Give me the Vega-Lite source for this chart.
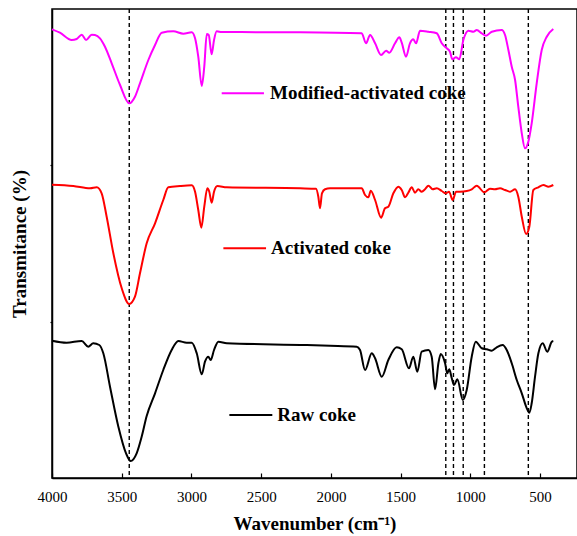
{
  "$schema": "https://vega.github.io/schema/vega-lite/v6.json",
  "width": 525,
  "height": 469,
  "autosize": {"type": "none"},
  "padding": {"left": 52, "top": 9, "right": 0, "bottom": 58},
  "background": "white",
  "datasets": {
    "spectra": [
      {"wn": 4000, "T": 448.7, "sample": "Modified-activated coke"},
      {"wn": 3943, "T": 445.3, "sample": "Modified-activated coke"},
      {"wn": 3859, "T": 438, "sample": "Modified-activated coke"},
      {"wn": 3823, "T": 439, "sample": "Modified-activated coke"},
      {"wn": 3787, "T": 443.3, "sample": "Modified-activated coke"},
      {"wn": 3756, "T": 438, "sample": "Modified-activated coke"},
      {"wn": 3715, "T": 443.3, "sample": "Modified-activated coke"},
      {"wn": 3692, "T": 443, "sample": "Modified-activated coke"},
      {"wn": 3656, "T": 439.7, "sample": "Modified-activated coke"},
      {"wn": 3620, "T": 431.3, "sample": "Modified-activated coke"},
      {"wn": 3572, "T": 414.7, "sample": "Modified-activated coke"},
      {"wn": 3512, "T": 393, "sample": "Modified-activated coke"},
      {"wn": 3446, "T": 374.7, "sample": "Modified-activated coke"},
      {"wn": 3405, "T": 381.3, "sample": "Modified-activated coke"},
      {"wn": 3369, "T": 394.7, "sample": "Modified-activated coke"},
      {"wn": 3309, "T": 418, "sample": "Modified-activated coke"},
      {"wn": 3261, "T": 433, "sample": "Modified-activated coke"},
      {"wn": 3213, "T": 445.3, "sample": "Modified-activated coke"},
      {"wn": 3130, "T": 446.7, "sample": "Modified-activated coke"},
      {"wn": 3058, "T": 444.3, "sample": "Modified-activated coke"},
      {"wn": 2998, "T": 445.7, "sample": "Modified-activated coke"},
      {"wn": 2974, "T": 439.7, "sample": "Modified-activated coke"},
      {"wn": 2951, "T": 421.3, "sample": "Modified-activated coke"},
      {"wn": 2926, "T": 392, "sample": "Modified-activated coke"},
      {"wn": 2908, "T": 411.3, "sample": "Modified-activated coke"},
      {"wn": 2890, "T": 444, "sample": "Modified-activated coke"},
      {"wn": 2876, "T": 443, "sample": "Modified-activated coke"},
      {"wn": 2855, "T": 423.7, "sample": "Modified-activated coke"},
      {"wn": 2838, "T": 438, "sample": "Modified-activated coke"},
      {"wn": 2819, "T": 446.7, "sample": "Modified-activated coke"},
      {"wn": 2783, "T": 446, "sample": "Modified-activated coke"},
      {"wn": 2221, "T": 445.7, "sample": "Modified-activated coke"},
      {"wn": 1779, "T": 444.7, "sample": "Modified-activated coke"},
      {"wn": 1748, "T": 434.7, "sample": "Modified-activated coke"},
      {"wn": 1719, "T": 443, "sample": "Modified-activated coke"},
      {"wn": 1683, "T": 434.7, "sample": "Modified-activated coke"},
      {"wn": 1640, "T": 423, "sample": "Modified-activated coke"},
      {"wn": 1604, "T": 427.3, "sample": "Modified-activated coke"},
      {"wn": 1581, "T": 425.3, "sample": "Modified-activated coke"},
      {"wn": 1540, "T": 434.7, "sample": "Modified-activated coke"},
      {"wn": 1509, "T": 440.7, "sample": "Modified-activated coke"},
      {"wn": 1492, "T": 435.3, "sample": "Modified-activated coke"},
      {"wn": 1461, "T": 421.3, "sample": "Modified-activated coke"},
      {"wn": 1433, "T": 434.7, "sample": "Modified-activated coke"},
      {"wn": 1409, "T": 438.7, "sample": "Modified-activated coke"},
      {"wn": 1389, "T": 434.7, "sample": "Modified-activated coke"},
      {"wn": 1361, "T": 447.3, "sample": "Modified-activated coke"},
      {"wn": 1301, "T": 446.3, "sample": "Modified-activated coke"},
      {"wn": 1241, "T": 444.7, "sample": "Modified-activated coke"},
      {"wn": 1205, "T": 434.7, "sample": "Modified-activated coke"},
      {"wn": 1169, "T": 429.7, "sample": "Modified-activated coke"},
      {"wn": 1146, "T": 426.3, "sample": "Modified-activated coke"},
      {"wn": 1129, "T": 418.7, "sample": "Modified-activated coke"},
      {"wn": 1103, "T": 420.7, "sample": "Modified-activated coke"},
      {"wn": 1079, "T": 418.7, "sample": "Modified-activated coke"},
      {"wn": 1050, "T": 438, "sample": "Modified-activated coke"},
      {"wn": 1014, "T": 447.3, "sample": "Modified-activated coke"},
      {"wn": 978, "T": 446.3, "sample": "Modified-activated coke"},
      {"wn": 954, "T": 448, "sample": "Modified-activated coke"},
      {"wn": 918, "T": 444.7, "sample": "Modified-activated coke"},
      {"wn": 887, "T": 442.3, "sample": "Modified-activated coke"},
      {"wn": 846, "T": 446.3, "sample": "Modified-activated coke"},
      {"wn": 775, "T": 448, "sample": "Modified-activated coke"},
      {"wn": 751, "T": 443, "sample": "Modified-activated coke"},
      {"wn": 727, "T": 428, "sample": "Modified-activated coke"},
      {"wn": 703, "T": 411.3, "sample": "Modified-activated coke"},
      {"wn": 679, "T": 398, "sample": "Modified-activated coke"},
      {"wn": 656, "T": 371.3, "sample": "Modified-activated coke"},
      {"wn": 631, "T": 344.7, "sample": "Modified-activated coke"},
      {"wn": 608, "T": 329.7, "sample": "Modified-activated coke"},
      {"wn": 584, "T": 336.3, "sample": "Modified-activated coke"},
      {"wn": 560, "T": 354.7, "sample": "Modified-activated coke"},
      {"wn": 524, "T": 394.7, "sample": "Modified-activated coke"},
      {"wn": 488, "T": 428, "sample": "Modified-activated coke"},
      {"wn": 452, "T": 441.3, "sample": "Modified-activated coke"},
      {"wn": 405, "T": 449, "sample": "Modified-activated coke"},

      {"wn": 4000, "T": 293.3, "sample": "Activated coke"},
      {"wn": 3847, "T": 292, "sample": "Activated coke"},
      {"wn": 3727, "T": 289.7, "sample": "Activated coke"},
      {"wn": 3679, "T": 290.7, "sample": "Activated coke"},
      {"wn": 3644, "T": 284.7, "sample": "Activated coke"},
      {"wn": 3608, "T": 261.3, "sample": "Activated coke"},
      {"wn": 3560, "T": 224.7, "sample": "Activated coke"},
      {"wn": 3500, "T": 189.7, "sample": "Activated coke"},
      {"wn": 3446, "T": 174, "sample": "Activated coke"},
      {"wn": 3405, "T": 181.3, "sample": "Activated coke"},
      {"wn": 3369, "T": 204.7, "sample": "Activated coke"},
      {"wn": 3321, "T": 234.7, "sample": "Activated coke"},
      {"wn": 3261, "T": 254.7, "sample": "Activated coke"},
      {"wn": 3202, "T": 278, "sample": "Activated coke"},
      {"wn": 3166, "T": 290.7, "sample": "Activated coke"},
      {"wn": 3082, "T": 292, "sample": "Activated coke"},
      {"wn": 2998, "T": 292.7, "sample": "Activated coke"},
      {"wn": 2974, "T": 286.3, "sample": "Activated coke"},
      {"wn": 2951, "T": 268, "sample": "Activated coke"},
      {"wn": 2929, "T": 250.3, "sample": "Activated coke"},
      {"wn": 2908, "T": 271.3, "sample": "Activated coke"},
      {"wn": 2886, "T": 289.7, "sample": "Activated coke"},
      {"wn": 2872, "T": 286.3, "sample": "Activated coke"},
      {"wn": 2855, "T": 275.3, "sample": "Activated coke"},
      {"wn": 2838, "T": 286.3, "sample": "Activated coke"},
      {"wn": 2814, "T": 292, "sample": "Activated coke"},
      {"wn": 2747, "T": 290.7, "sample": "Activated coke"},
      {"wn": 2221, "T": 289.7, "sample": "Activated coke"},
      {"wn": 2107, "T": 289.3, "sample": "Activated coke"},
      {"wn": 2090, "T": 281.3, "sample": "Activated coke"},
      {"wn": 2078, "T": 269.7, "sample": "Activated coke"},
      {"wn": 2064, "T": 284.7, "sample": "Activated coke"},
      {"wn": 2042, "T": 288.7, "sample": "Activated coke"},
      {"wn": 2006, "T": 289.7, "sample": "Activated coke"},
      {"wn": 1779, "T": 289.7, "sample": "Activated coke"},
      {"wn": 1755, "T": 283, "sample": "Activated coke"},
      {"wn": 1731, "T": 280.7, "sample": "Activated coke"},
      {"wn": 1714, "T": 287.3, "sample": "Activated coke"},
      {"wn": 1683, "T": 278, "sample": "Activated coke"},
      {"wn": 1640, "T": 260.3, "sample": "Activated coke"},
      {"wn": 1612, "T": 269.7, "sample": "Activated coke"},
      {"wn": 1588, "T": 271.3, "sample": "Activated coke"},
      {"wn": 1552, "T": 284.7, "sample": "Activated coke"},
      {"wn": 1516, "T": 291.3, "sample": "Activated coke"},
      {"wn": 1492, "T": 288, "sample": "Activated coke"},
      {"wn": 1468, "T": 280.7, "sample": "Activated coke"},
      {"wn": 1445, "T": 285.3, "sample": "Activated coke"},
      {"wn": 1420, "T": 290.7, "sample": "Activated coke"},
      {"wn": 1397, "T": 285.3, "sample": "Activated coke"},
      {"wn": 1373, "T": 288.7, "sample": "Activated coke"},
      {"wn": 1349, "T": 286.3, "sample": "Activated coke"},
      {"wn": 1325, "T": 288.7, "sample": "Activated coke"},
      {"wn": 1301, "T": 292.3, "sample": "Activated coke"},
      {"wn": 1270, "T": 288.7, "sample": "Activated coke"},
      {"wn": 1241, "T": 289.7, "sample": "Activated coke"},
      {"wn": 1205, "T": 287, "sample": "Activated coke"},
      {"wn": 1176, "T": 284.7, "sample": "Activated coke"},
      {"wn": 1153, "T": 286.3, "sample": "Activated coke"},
      {"wn": 1126, "T": 278, "sample": "Activated coke"},
      {"wn": 1102, "T": 286.3, "sample": "Activated coke"},
      {"wn": 1074, "T": 286.3, "sample": "Activated coke"},
      {"wn": 1026, "T": 287, "sample": "Activated coke"},
      {"wn": 990, "T": 288.7, "sample": "Activated coke"},
      {"wn": 954, "T": 292.3, "sample": "Activated coke"},
      {"wn": 900, "T": 285.7, "sample": "Activated coke"},
      {"wn": 859, "T": 289.3, "sample": "Activated coke"},
      {"wn": 823, "T": 288.7, "sample": "Activated coke"},
      {"wn": 787, "T": 289.7, "sample": "Activated coke"},
      {"wn": 751, "T": 288, "sample": "Activated coke"},
      {"wn": 715, "T": 286.3, "sample": "Activated coke"},
      {"wn": 679, "T": 288.7, "sample": "Activated coke"},
      {"wn": 656, "T": 281.3, "sample": "Activated coke"},
      {"wn": 631, "T": 261.3, "sample": "Activated coke"},
      {"wn": 600, "T": 244, "sample": "Activated coke"},
      {"wn": 577, "T": 251.3, "sample": "Activated coke"},
      {"wn": 548, "T": 288, "sample": "Activated coke"},
      {"wn": 512, "T": 290.7, "sample": "Activated coke"},
      {"wn": 476, "T": 293, "sample": "Activated coke"},
      {"wn": 440, "T": 291.3, "sample": "Activated coke"},
      {"wn": 405, "T": 293, "sample": "Activated coke"},

      {"wn": 4000, "T": 137.3, "sample": "Raw coke"},
      {"wn": 3895, "T": 135.3, "sample": "Raw coke"},
      {"wn": 3787, "T": 137, "sample": "Raw coke"},
      {"wn": 3740, "T": 131.3, "sample": "Raw coke"},
      {"wn": 3704, "T": 134.7, "sample": "Raw coke"},
      {"wn": 3661, "T": 133, "sample": "Raw coke"},
      {"wn": 3632, "T": 124.7, "sample": "Raw coke"},
      {"wn": 3584, "T": 91.3, "sample": "Raw coke"},
      {"wn": 3524, "T": 51.3, "sample": "Raw coke"},
      {"wn": 3469, "T": 24.7, "sample": "Raw coke"},
      {"wn": 3436, "T": 17, "sample": "Raw coke"},
      {"wn": 3393, "T": 24.7, "sample": "Raw coke"},
      {"wn": 3357, "T": 41.3, "sample": "Raw coke"},
      {"wn": 3321, "T": 62, "sample": "Raw coke"},
      {"wn": 3261, "T": 84.7, "sample": "Raw coke"},
      {"wn": 3202, "T": 108, "sample": "Raw coke"},
      {"wn": 3142, "T": 128, "sample": "Raw coke"},
      {"wn": 3094, "T": 137, "sample": "Raw coke"},
      {"wn": 3034, "T": 135.3, "sample": "Raw coke"},
      {"wn": 2998, "T": 135.3, "sample": "Raw coke"},
      {"wn": 2962, "T": 124.7, "sample": "Raw coke"},
      {"wn": 2926, "T": 103.7, "sample": "Raw coke"},
      {"wn": 2903, "T": 116.3, "sample": "Raw coke"},
      {"wn": 2879, "T": 121.3, "sample": "Raw coke"},
      {"wn": 2862, "T": 118, "sample": "Raw coke"},
      {"wn": 2838, "T": 128, "sample": "Raw coke"},
      {"wn": 2807, "T": 136.3, "sample": "Raw coke"},
      {"wn": 2747, "T": 134.7, "sample": "Raw coke"},
      {"wn": 2173, "T": 133, "sample": "Raw coke"},
      {"wn": 2006, "T": 132.3, "sample": "Raw coke"},
      {"wn": 1815, "T": 131.3, "sample": "Raw coke"},
      {"wn": 1791, "T": 128, "sample": "Raw coke"},
      {"wn": 1755, "T": 108, "sample": "Raw coke"},
      {"wn": 1707, "T": 124.7, "sample": "Raw coke"},
      {"wn": 1683, "T": 119.7, "sample": "Raw coke"},
      {"wn": 1635, "T": 101.3, "sample": "Raw coke"},
      {"wn": 1588, "T": 118, "sample": "Raw coke"},
      {"wn": 1528, "T": 130.7, "sample": "Raw coke"},
      {"wn": 1492, "T": 128.7, "sample": "Raw coke"},
      {"wn": 1440, "T": 109.7, "sample": "Raw coke"},
      {"wn": 1409, "T": 121.3, "sample": "Raw coke"},
      {"wn": 1380, "T": 106.3, "sample": "Raw coke"},
      {"wn": 1349, "T": 126.3, "sample": "Raw coke"},
      {"wn": 1301, "T": 128, "sample": "Raw coke"},
      {"wn": 1277, "T": 121.3, "sample": "Raw coke"},
      {"wn": 1253, "T": 88.7, "sample": "Raw coke"},
      {"wn": 1229, "T": 114.7, "sample": "Raw coke"},
      {"wn": 1212, "T": 124, "sample": "Raw coke"},
      {"wn": 1181, "T": 114.7, "sample": "Raw coke"},
      {"wn": 1165, "T": 104.7, "sample": "Raw coke"},
      {"wn": 1151, "T": 108.7, "sample": "Raw coke"},
      {"wn": 1133, "T": 99.7, "sample": "Raw coke"},
      {"wn": 1117, "T": 93, "sample": "Raw coke"},
      {"wn": 1093, "T": 98.7, "sample": "Raw coke"},
      {"wn": 1054, "T": 78, "sample": "Raw coke"},
      {"wn": 1026, "T": 88, "sample": "Raw coke"},
      {"wn": 990, "T": 121.3, "sample": "Raw coke"},
      {"wn": 961, "T": 136.3, "sample": "Raw coke"},
      {"wn": 918, "T": 129.7, "sample": "Raw coke"},
      {"wn": 882, "T": 128.7, "sample": "Raw coke"},
      {"wn": 846, "T": 127.3, "sample": "Raw coke"},
      {"wn": 811, "T": 130.7, "sample": "Raw coke"},
      {"wn": 768, "T": 133, "sample": "Raw coke"},
      {"wn": 739, "T": 128, "sample": "Raw coke"},
      {"wn": 703, "T": 114.7, "sample": "Raw coke"},
      {"wn": 667, "T": 98, "sample": "Raw coke"},
      {"wn": 631, "T": 84.7, "sample": "Raw coke"},
      {"wn": 595, "T": 69.7, "sample": "Raw coke"},
      {"wn": 577, "T": 65.3, "sample": "Raw coke"},
      {"wn": 560, "T": 74.7, "sample": "Raw coke"},
      {"wn": 536, "T": 101.3, "sample": "Raw coke"},
      {"wn": 512, "T": 124.7, "sample": "Raw coke"},
      {"wn": 481, "T": 134.7, "sample": "Raw coke"},
      {"wn": 448, "T": 126.3, "sample": "Raw coke"},
      {"wn": 416, "T": 136.3, "sample": "Raw coke"},
      {"wn": 405, "T": 137, "sample": "Raw coke"}
    ],
    "bands": [
      {"wn": 3446},
      {"wn": 1176},
      {"wn": 1121},
      {"wn": 1051},
      {"wn": 899},
      {"wn": 584}
    ],
    "keys": [
      {"sample": "Modified-activated coke", "from": 2783, "to": 2480, "at": 2437, "T": 384.7},
      {"sample": "Activated coke", "from": 2771, "to": 2465, "at": 2429, "T": 229.7},
      {"sample": "Raw coke", "from": 2728, "to": 2420, "at": 2384, "T": 63}
    ]
  },
  "layer": [
    {
      "data": {"name": "bands"},
      "mark": {"type": "rule", "color": "black", "strokeWidth": 1.4, "strokeDash": [4, 3]},
      "encoding": {
        "x": {"field": "wn", "type": "quantitative"}
      }
    },
    {
      "data": {"name": "spectra"},
      "mark": {"type": "line", "strokeWidth": 2, "interpolate": "monotone"},
      "encoding": {
        "x": {
          "field": "wn",
          "type": "quantitative",
          "scale": {"domain": [4000, 235], "nice": false, "zero": false},
          "axis": {
            "title": "Wavenumber (cm⁻¹)",
            "values": [4000, 3750, 3500, 3250, 3000, 2750, 2500, 2250, 2000, 1750, 1500, 1250, 1000, 750, 500, 250],
            "format": "d",
            "labelExpr": "datum.value % 500 === 0 ? datum.label : ''",
            "tickSize": -5,
            "labelPadding": 16,
            "titlePadding": 10
          }
        },
        "y": {
          "field": "T",
          "type": "quantitative",
          "scale": {"domain": [0, 469], "nice": false, "zero": false},
          "axis": {
            "title": "Transmitance (%)",
            "values": [156.3, 312.7],
            "labels": false,
            "tickSize": 2,
            "titlePadding": 20
          }
        },
        "color": {
          "field": "sample",
          "type": "nominal",
          "scale": {
            "domain": ["Modified-activated coke", "Activated coke", "Raw coke"],
            "range": ["#FF00FF", "#FF0000", "#000000"]
          },
          "legend": null
        }
      }
    },
    {
      "data": {"name": "keys"},
      "mark": {"type": "rule", "strokeWidth": 2},
      "encoding": {
        "x": {"field": "from", "type": "quantitative"},
        "x2": {"field": "to"},
        "y": {"field": "T", "type": "quantitative"},
        "color": {"field": "sample", "type": "nominal", "legend": null}
      }
    },
    {
      "data": {"name": "keys"},
      "mark": {
        "type": "text",
        "align": "left",
        "baseline": "middle",
        "font": "Liberation Serif",
        "fontWeight": "bold",
        "fontSize": 19,
        "color": "black"
      },
      "encoding": {
        "x": {"field": "at", "type": "quantitative"},
        "y": {"field": "T", "type": "quantitative"},
        "text": {"field": "sample"}
      }
    }
  ],
  "config": {
    "view": {"stroke": "black", "strokeWidth": 1.5},
    "axis": {
      "grid": false,
      "domainColor": "black",
      "domainWidth": 1.5,
      "tickColor": "black",
      "tickWidth": 1.2,
      "labelFont": "Liberation Serif",
      "labelFontSize": 15,
      "labelColor": "black",
      "labelFlush": false,
      "labelOverlap": false,
      "labelBound": false,
      "titleFont": "Liberation Serif",
      "titleFontSize": 19,
      "titleFontWeight": "bold",
      "titleColor": "black"
    }
  }
}
